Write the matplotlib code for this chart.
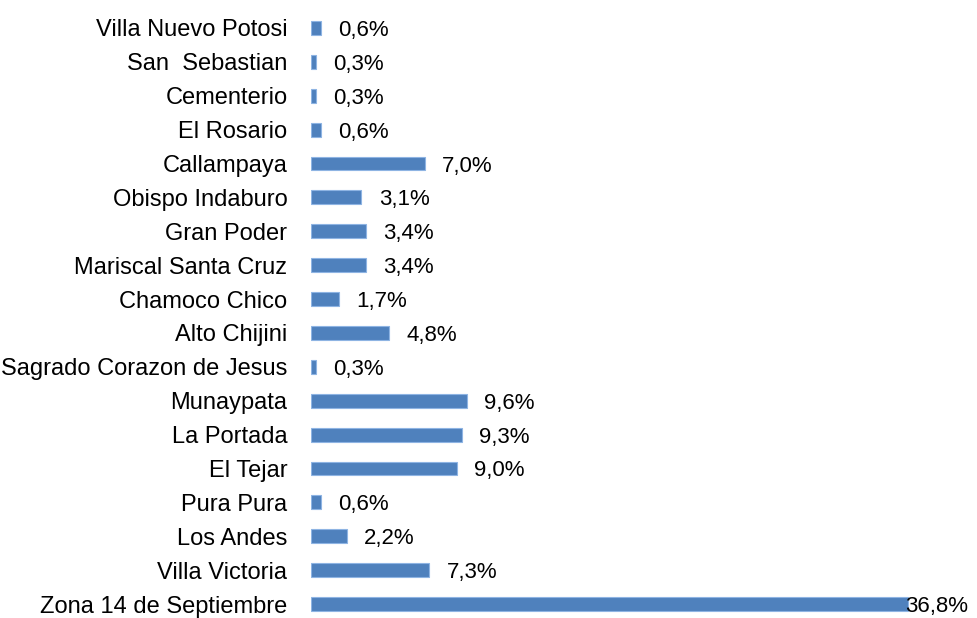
import matplotlib
matplotlib.use("Agg")
import matplotlib.pyplot as plt

categories = [
    "Zona 14 de Septiembre", "Villa Victoria", "Los Andes", "Pura Pura",
    "El Tejar", "La Portada", "Munaypata", "Sagrado Corazon de Jesus",
    "Alto Chijini", "Chamoco Chico", "Mariscal Santa Cruz", "Gran Poder",
    "Obispo Indaburo", "Callampaya", "El Rosario", "Cementerio",
    "San  Sebastian", "Villa Nuevo Potosi",
]
values = [36.8, 7.3, 2.2, 0.6, 9.0, 9.3, 9.6, 0.3, 4.8, 1.7, 3.4, 3.4,
          3.1, 7.0, 0.6, 0.3, 0.3, 0.6]
value_labels = [f"{v:.1f}%".replace(".", ",") for v in values]

plt.rcParams['font.family'] = ['Liberation Sans', 'DejaVu Sans']

fig = plt.figure(figsize=(9.78, 6.18), dpi=100)
ax = fig.add_axes([311/978, 0, (975-311)/978, 1])

y = list(range(len(categories)))
ax.barh(y, values, height=0.41, color='#4F81BD', edgecolor='#8EB4E3', linewidth=0.8)

xmax = (975 - 311) / 16.22
ax.set_xlim(0, xmax)
b = 17 / 576
a = -14 * b
ax.set_ylim(a, a + 618 * b)

ax.set_yticks(y)
ax.set_yticklabels(categories, fontsize=17)
ax.tick_params(axis='y', length=0, pad=17)
ax.set_xticks([])
for s in ax.spines.values():
    s.set_visible(False)

for yi, v, lab in zip(y, values, value_labels):
    off = 12.5 if v < 0.85 * xmax else -2
    ax.annotate(lab, (v, yi), xytext=(off, 0), textcoords='offset points',
                ha='left', va='center_baseline', fontsize=16, color='black')

fig.savefig('out.png', dpi=100)
